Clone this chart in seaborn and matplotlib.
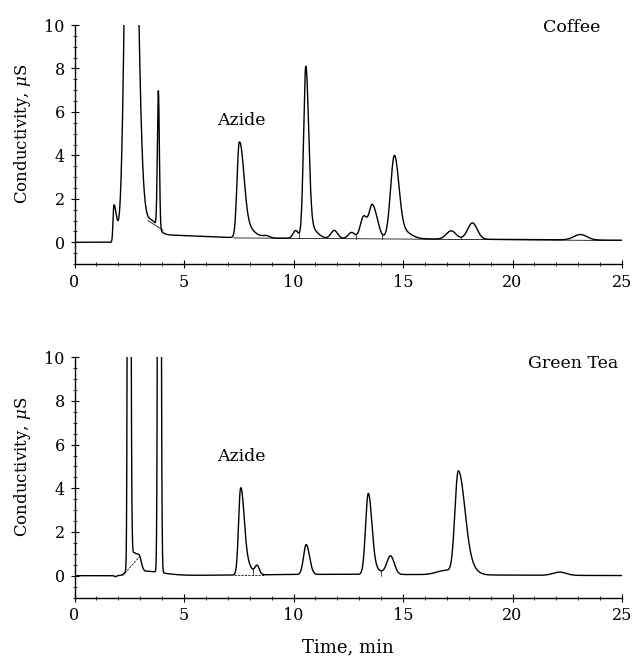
import numpy as np
import pandas as pd
import matplotlib
matplotlib.use("Agg")
import matplotlib.pyplot as plt
from matplotlib.ticker import MultipleLocator
import seaborn as sns

# ---------------- data ----------------
# Coffee: peak retention times (min), heights (uS), left / right widths (min)
coffee_rt = [3.00, 3.40, 1.80, 2.55, 3.50, 3.83, 7.52, 7.75, 8.75, 10.10, 10.56, 10.75,
             11.86, 12.65, 13.20, 13.60, 14.60, 14.90, 17.20, 18.17, 23.10]
coffee_h = [0.20, 0.15, 1.70, 30.0, 0.65, 6.30, 4.22, 0.55, 0.10, 0.35, 7.60, 0.50,
            0.37, 0.28, 1.00, 1.55, 3.70, 0.40, 0.38, 0.75, 0.25]
coffee_sl = [0.40, 0.40, 0.04, 0.196, 0.30, 0.045, 0.10, 0.15, 0.15, 0.12, 0.10, 0.20,
             0.15, 0.15, 0.15, 0.15, 0.17, 0.20, 0.22, 0.22, 0.30]
coffee_sr = [18.0, 2.00, 0.12, 0.263, 0.28, 0.045, 0.20, 0.40, 0.15, 0.12, 0.13, 0.30,
             0.15, 0.15, 0.15, 0.22, 0.20, 0.40, 0.22, 0.22, 0.30]
# integration baselines (start t, end t, start level, end level) and drop lines
coffee_seg_t0 = [3.35, 7.26]
coffee_seg_t1 = [4.05, 25.0]
coffee_seg_y0 = [1.00, 0.20]
coffee_seg_y1 = [0.55, 0.08]
coffee_seg_dash = [False, False]
coffee_drop_t = [10.26, 12.85, 14.06, 17.67]

# Green tea
tea_rt = [3.20, 12.0, 1.87, 2.50, 2.48, 2.70, 2.95, 3.87, 7.58, 7.75, 8.34, 10.58,
          13.41, 13.60, 14.43, 16.95, 17.52, 17.90, 22.15]
tea_h = [0.20, 0.06, -0.05, 0.30, 80.0, 0.75, 0.70, 80.0, 3.60, 0.70, 0.40, 1.37,
         3.57, 0.30, 0.85, 0.20, 4.64, 0.50, 0.15]
tea_sl = [0.40, 4.00, 0.05, 0.15, 0.039, 0.12, 0.12, 0.045, 0.09, 0.15, 0.10, 0.12,
          0.12, 0.15, 0.17, 0.40, 0.15, 0.20, 0.30]
tea_sr = [0.80, 6.00, 0.05, 0.15, 0.054, 0.12, 0.10, 0.050, 0.15, 0.25, 0.10, 0.15,
          0.16, 0.30, 0.17, 0.30, 0.28, 0.35, 0.30]
tea_seg_t0 = [2.20, 7.30]
tea_seg_t1 = [2.95, 8.65]
tea_seg_y0 = [0.00, 0.03]
tea_seg_y1 = [0.85, 0.03]
tea_seg_dash = [True, True]
tea_drop_t = [8.15, 14.00]

panel_names = ["Coffee", "Green Tea"]
x_ticks = [0, 5, 10, 15, 20, 25]
y_ticks = [0, 2, 4, 6, 8, 10]

# ---------------- helpers ----------------
t = np.linspace(0, 25, 6001)


def trace(tt, rt, h, sl, sr):
    y = np.zeros_like(tt)
    for c, a, s1, s2 in zip(rt, h, sl, sr):
        s = np.where(tt < c, s1, s2)
        y += a * np.exp(-0.5 * ((tt - c) / s) ** 2)
    return y


# ---------------- style ----------------
sns.set_theme(style="ticks")
plt.rcParams["font.family"] = ["DejaVu Serif"]
plt.rcParams["mathtext.fontset"] = "dejavuserif"

fig = plt.figure(figsize=(6.33, 6.62), dpi=100)
W, H = 633, 662
x0, x1 = 74.5, 622.0
axes_px = [(25.0, 264.0), (357.3, 597.5)]

panels = [
    dict(rt=coffee_rt, h=coffee_h, sl=coffee_sl, sr=coffee_sr,
         st0=coffee_seg_t0, st1=coffee_seg_t1, sy0=coffee_seg_y0, sy1=coffee_seg_y1,
         dash=coffee_seg_dash, drops=coffee_drop_t, name_xy=(24.0, 9.9), azide_xy=(7.6, 5.6)),
    dict(rt=tea_rt, h=tea_h, sl=tea_sl, sr=tea_sr,
         st0=tea_seg_t0, st1=tea_seg_t1, sy0=tea_seg_y0, sy1=tea_seg_y1,
         dash=tea_seg_dash, drops=tea_drop_t, name_xy=(24.85, 9.7), azide_xy=(7.6, 5.45)),
]

for i, (p, (top, bot)) in enumerate(zip(panels, axes_px)):
    ax = fig.add_axes([x0 / W, 1 - bot / H, (x1 - x0) / W, (bot - top) / H])
    y = trace(t, p["rt"], p["h"], p["sl"], p["sr"])
    df = pd.DataFrame({"Time": t, "Signal": y})
    sns.lineplot(data=df, x="Time", y="Signal", ax=ax, color="black",
                 linewidth=1.0, estimator=None, sort=False)

    # integration baselines
    for a, b, ya, yb, dsh in zip(p["st0"], p["st1"], p["sy0"], p["sy1"], p["dash"]):
        ax.plot([a, b], [ya, yb], color="black", lw=0.55,
                linestyle=(0, (3, 1.5)) if dsh else "-")
    for d in p["drops"]:
        lvl = None
        for a, b, ya, yb in zip(p["st0"], p["st1"], p["sy0"], p["sy1"]):
            if a <= d <= b:
                lvl = ya + (yb - ya) * (d - a) / (b - a)
        if lvl is None:
            lvl = 0.0
        ax.plot([d, d], [lvl, np.interp(d, t, y)], color="black", lw=0.5)

    ax.set_xlim(0, 25)
    ax.set_ylim(-1, 10)
    ax.set_xticks(x_ticks)
    ax.set_yticks(y_ticks)
    ax.xaxis.set_minor_locator(MultipleLocator(1))
    ax.yaxis.set_minor_locator(MultipleLocator(0.5))
    ax.tick_params(which="major", direction="inout", length=6, width=0.8,
                   labelsize=11.5, color="black", labelcolor="black", pad=4)
    ax.tick_params(which="minor", direction="inout", length=3, width=0.6, color="black")
    sns.despine(ax=ax)
    for s in ("left", "bottom"):
        ax.spines[s].set_linewidth(1.0)
        ax.spines[s].set_color("black")

    ax.set_ylabel(r"Conductivity, $\mu$S", fontsize=12, color="black")
    ax.yaxis.set_label_coords(-0.075, 6 / 11)
    if i == 1:
        ax.set_xlabel("Time, min", fontsize=13, color="black", labelpad=10)
    else:
        ax.set_xlabel("")

    ax.text(p["name_xy"][0], p["name_xy"][1], panel_names[i], ha="right", va="center",
            fontsize=12.5, color="black")
    ax.text(p["azide_xy"][0], p["azide_xy"][1], "Azide", ha="center", va="center",
            fontsize=12.5, color="black")

fig.savefig("out.png", dpi=100, facecolor="white")
